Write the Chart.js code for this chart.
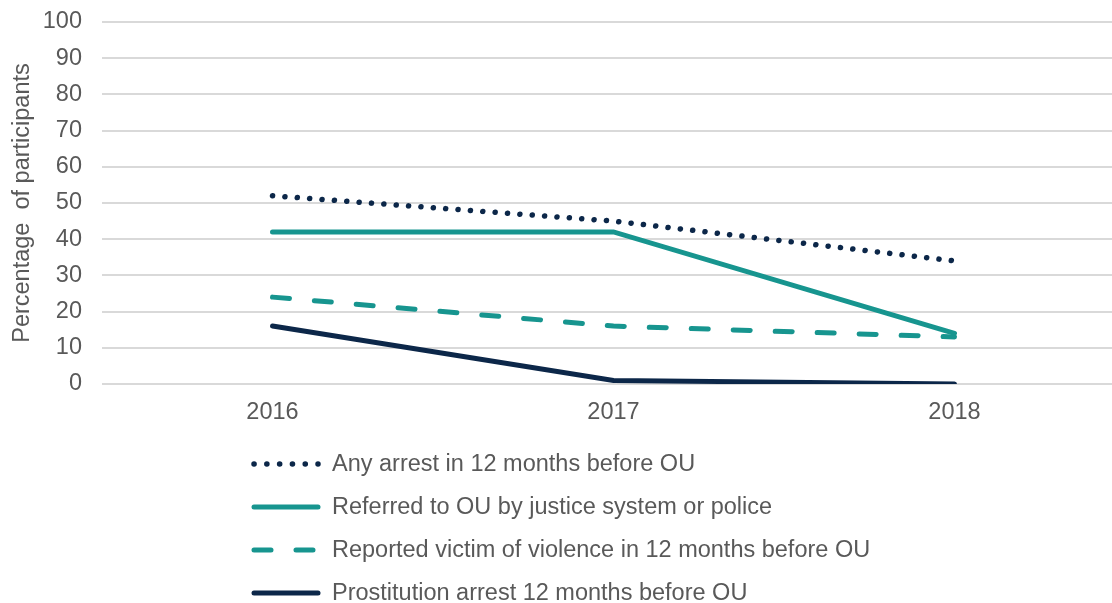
<!DOCTYPE html>
<html>
<head>
<meta charset="utf-8">
<script src="https://cdn.jsdelivr.net/npm/chart.js@4/dist/chart.umd.min.js"></script>
<style>
  html, body { margin: 0; padding: 0; background: #fff; overflow: hidden; }
  #wrap { width: 1125px; height: 603px; }
</style>
</head>
<body>
<div id="wrap"><canvas id="mainChart" width="1125" height="603"></canvas></div>
<script>
var years = ["2016", "2017", "2018"];
var anyArrest = [52, 45, 34];
var referred = [42, 42, 14];
var victim = [24, 16, 13];
var prostitution = [16, 1, 0];
var yTicks = [0, 10, 20, 30, 40, 50, 60, 70, 80, 90, 100];

var navy = "#0c2749";
var teal = "#17958f";
var textColor = "#595959";
var font = "'Liberation Sans', Arial, sans-serif";
var fontSize = 23.5;

var legendPlugin = {
  id: "sideLegend",
  afterDraw: function(chart) {
    var ctx = chart.ctx;
    chart.data.datasets.forEach(function(ds, i) {
      var y = 464 + 43 * i;
      ctx.save();
      ctx.strokeStyle = ds.borderColor;
      ctx.lineWidth = ds.borderWidth;
      ctx.lineCap = "round";
      ctx.setLineDash(ds.legendDash || []);
      ctx.beginPath();
      ctx.moveTo(254, y);
      ctx.lineTo(318, y);
      ctx.stroke();
      ctx.setLineDash([]);
      ctx.fillStyle = textColor;
      ctx.font = fontSize + "px " + font;
      ctx.textBaseline = "middle";
      ctx.fillText(ds.label, 332, y + 1);
      ctx.restore();
    });
  }
};

var ctx = document.getElementById("mainChart").getContext("2d");
var chart = new Chart(ctx, {
  type: "line",
  data: {
    labels: years,
    datasets: [
      {
        label: "Any arrest in 12 months before OU",
        data: anyArrest,
        borderColor: navy,
        borderWidth: 5.5,
        borderDash: [0.1, 12.3],
        legendDash: [0.1, 12.7],
        borderCapStyle: "round"
      },
      {
        label: "Referred to OU by justice system or police",
        data: referred,
        borderColor: teal,
        borderWidth: 5,
        borderCapStyle: "round"
      },
      {
        label: "Reported victim of violence in 12 months before OU",
        data: victim,
        borderColor: teal,
        borderWidth: 5,
        borderDash: [17, 25],
        legendDash: [17, 25],
        borderCapStyle: "round"
      },
      {
        label: "Prostitution arrest 12 months before OU",
        data: prostitution,
        borderColor: navy,
        borderWidth: 5,
        borderCapStyle: "round"
      }
    ]
  },
  options: {
    responsive: false,
    animation: false,
    layout: { padding: { top: 22, bottom: 179, left: 0, right: 0 } },
    elements: { point: { radius: 0 }, line: { tension: 0 } },
    plugins: {
      legend: { display: false },
      tooltip: { enabled: false }
    },
    scales: {
      x: {
        offset: true,
        grid: { display: false, drawTicks: false },
        border: { display: false },
        ticks: {
          color: textColor,
          font: { family: font, size: fontSize },
          padding: 14,
          maxRotation: 0
        },
        afterFit: function(scale) { scale.height = 40; }
      },
      y: {
        min: 0,
        max: 100,
        afterBuildTicks: function(scale) {
          scale.ticks = yTicks.map(function(v) { return { value: v }; });
        },
        // invisible tick marks give the label gap (ticks.padding would push the plot down)
        grid: {
          color: "#d9d9d9",
          lineWidth: 2,
          drawTicks: true,
          tickLength: 20,
          tickColor: "rgba(0,0,0,0)"
        },
        border: { display: false },
        ticks: {
          color: textColor,
          font: { family: font, size: fontSize },
          padding: 0
        },
        title: {
          display: true,
          text: "Percentage  of participants",
          color: textColor,
          font: { family: font, size: fontSize },
          padding: { top: 8, bottom: 0 }
        },
        afterFit: function(scale) { scale.width = 102; }
      }
    }
  },
  plugins: [legendPlugin]
});
</script>
</body>
</html>
